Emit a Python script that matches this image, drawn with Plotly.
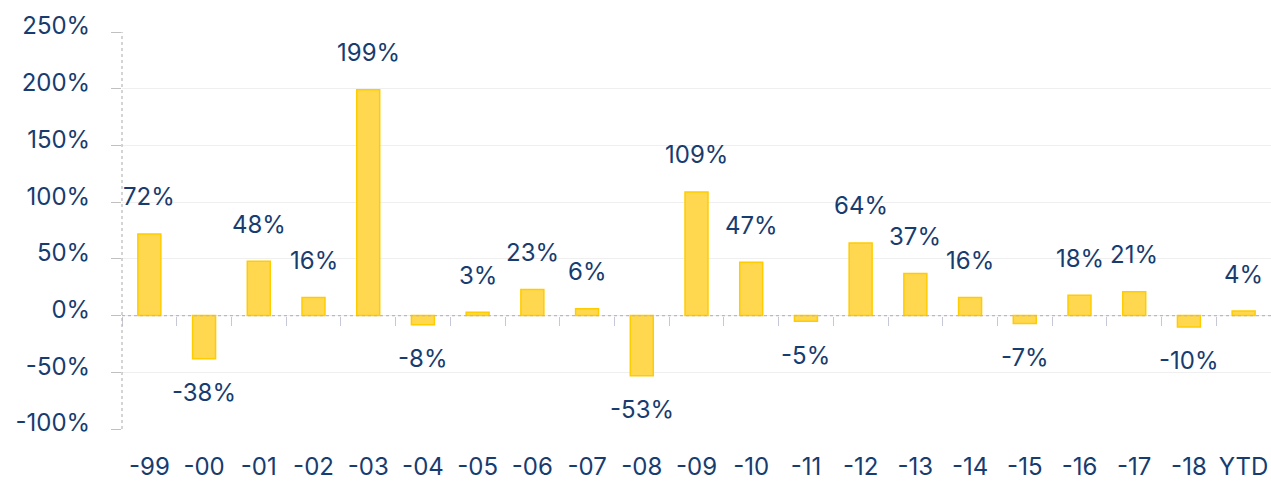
import plotly.graph_objects as go

categories = ["-99", "-00", "-01", "-02", "-03", "-04", "-05", "-06", "-07", "-08", "-09",
              "-10", "-11", "-12", "-13", "-14", "-15", "-16", "-17", "-18", "YTD"]
returns = [72, -38, 48, 16, 199, -8, 3, 23, 6, -53, 109, 47, -5, 64, 37, 16, -7, 18, 21, -10, 4]
y_ticks = [-100, -50, 0, 50, 100, 150, 200, 250]

NAVY = "#173c70"
FONT = "Inter, Noto Sans, sans-serif"
FS = 24
y_range = [-100, 250]

fig = go.Figure()
fig.add_trace(go.Bar(
    x=categories, y=returns, width=0.42,
    marker=dict(color="#ffd84f", line=dict(color="#ffcc00", width=1.5)),
    hoverinfo="skip", showlegend=False,
))
# invisible helper trace so the zero-line tick axis has categories
fig.add_trace(go.Scatter(x=categories, y=[0] * len(categories), xaxis="x2", yaxis="y",
                         mode="markers", marker=dict(opacity=0), hoverinfo="skip",
                         showlegend=False))

for i, v in enumerate(returns):
    fig.add_annotation(x=i, xref="x", y=v, yref="y", text=f"{v}%", showarrow=False,
                       yshift=37 if v >= 0 else -34, yanchor="middle",
                       font=dict(family=FONT, size=FS, color=NAVY))

# dotted zero line and y-axis line
fig.add_shape(type="line", xref="paper", x0=0, x1=1, yref="y", y0=0, y1=0,
              line=dict(color="#b8b8c8", width=1.2, dash="dot"), layer="above")
fig.add_shape(type="line", xref="paper", x0=0, x1=0, yref="paper", y0=0, y1=1,
              line=dict(color="#b8b8b8", width=1.2, dash="dot"), layer="above")

fig.update_layout(
    width=1271, height=482,
    margin=dict(l=122, r=0, t=32, b=53, autoexpand=False),
    paper_bgcolor="white", plot_bgcolor="white",
    font=dict(family=FONT, size=FS, color=NAVY),
    xaxis=dict(type="category", categoryarray=categories, categoryorder="array",
               range=[-0.5, len(categories) - 0.5], automargin=False,
               showgrid=False, zeroline=False, showline=False,
               ticks="", ticklabelstandoff=21,
               tickfont=dict(family=FONT, size=FS, color=NAVY)),
    xaxis2=dict(type="category", categoryarray=categories, categoryorder="array",
                range=[-0.5, len(categories) - 0.5], overlaying="x", anchor="free",
                position=(0 - y_range[0]) / (y_range[1] - y_range[0]), automargin=False,
                showgrid=False, zeroline=False, showline=False, showticklabels=False,
                ticks="outside", ticklen=9, tickwidth=1, tickcolor="#c4c8d8",
                tickson="boundaries"),
    yaxis=dict(range=y_range, tickvals=y_ticks, ticktext=[f"{t}%" for t in y_ticks],
               automargin=False,
               showgrid=True, gridcolor="#efefef", gridwidth=1,
               zeroline=False, showline=False,
               ticks="outside", ticklen=10, tickcolor="#c0c0c0",
               ticklabelstandoff=16, ticklabelshift=-6,
               tickfont=dict(family=FONT, size=FS, color=NAVY)),
)

fig.write_html("out.html", config={"displayModeBar": False},
               post_script="document.body.style.margin='0';document.body.style.overflow='hidden';")
